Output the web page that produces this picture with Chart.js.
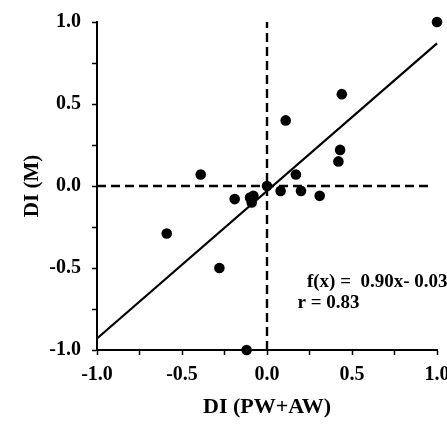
<!DOCTYPE html>
<html>
<head>
<meta charset="utf-8">
<script src="https://cdn.jsdelivr.net/npm/chart.js@4/dist/chart.umd.min.js"></script>
<style>
  html, body { margin: 0; padding: 0; background: #fff; }
  #wrap { width: 447px; height: 432px; }
</style>
</head>
<body>
<div id="wrap"><canvas id="c" width="447" height="432"></canvas></div>
<script>
// Data
const pointX = [1.0, 0.44, 0.11, 0.43, 0.42, 0.17, -0.39, -0.19, -0.10, -0.08, -0.09, -0.59, -0.28, -0.12, 0.0, 0.08, 0.20, 0.31];
const pointY = [1.0, 0.56, 0.40, 0.22, 0.15, 0.07, 0.07, -0.08, -0.07, -0.06, -0.10, -0.29, -0.50, -1.0, 0.0, -0.03, -0.03, -0.06];
const fitX = [-1.0, 1.0];
const fitY = [-0.93, 0.87];
const hRefX = [-1.0, 0.95];
const hRefY = [0.0, 0.0];
const vRefX = [0.0, 0.0];
const vRefY = [-1.0, 1.0];
const xTitle = 'DI (PW+AW)';
const yTitle = 'DI (M)';
const eqText = 'f(x) =  0.90x- 0.03';
const rText = 'r = 0.83';
const eqPos = [0.235, -0.615];
const rPos = [0.18, -0.745];

const toXY = (xs, ys) => xs.map((x, i) => ({x: x, y: ys[i]}));
const FONT = '"Liberation Serif", "Times New Roman", serif';

const textPlugin = {
  id: 'eqText',
  afterDatasetsDraw(chart) {
    const {ctx, scales: {x, y}} = chart;
    ctx.save();
    ctx.fillStyle = '#000';
    ctx.font = 'bold 19px ' + FONT;
    ctx.textBaseline = 'alphabetic';
    ctx.textAlign = 'left';
    ctx.fillText(eqText, x.getPixelForValue(eqPos[0]), y.getPixelForValue(eqPos[1]));
    ctx.fillText(rText, x.getPixelForValue(rPos[0]), y.getPixelForValue(rPos[1]));
    ctx.restore();
  }
};

const tickCb = v => (Math.abs(Math.round(v * 2) - v * 2) < 1e-6) ? Number(v).toFixed(1) : '';

new Chart(document.getElementById('c'), {
  type: 'scatter',
  data: {
    datasets: [
      {
        type: 'line', data: toXY(hRefX, hRefY), borderColor: '#000', borderWidth: 2.4,
        borderDash: [9, 5], pointRadius: 0, fill: false
      },
      {
        type: 'line', data: toXY(vRefX, vRefY), borderColor: '#000', borderWidth: 2.4,
        borderDash: [9, 5], pointRadius: 0, fill: false
      },
      {
        type: 'line', data: toXY(fitX, fitY), borderColor: '#000', borderWidth: 2.2,
        pointRadius: 0, fill: false
      },
      {
        data: toXY(pointX, pointY), backgroundColor: '#000', borderColor: '#000',
        pointRadius: 5.3, pointHoverRadius: 5.3, borderWidth: 0
      }
    ]
  },
  options: {
    responsive: false,
    animation: false,
    clip: false,
    layout: { padding: { top: 22, right: 10, left: 0, bottom: 0 } },
    plugins: { legend: { display: false }, tooltip: { enabled: false } },
    scales: {
      x: {
        type: 'linear', min: -1, max: 1,
        afterFit(s) { s.height = 82; s.paddingLeft = 0; s.paddingRight = 0; },
        ticks: { stepSize: 0.25, callback: tickCb, color: '#000', padding: 8, autoSkip: false, maxRotation: 0,
                 font: { family: FONT, size: 20, weight: 'bold' } },
        grid: { display: true, drawOnChartArea: false, drawTicks: true, tickLength: 5, tickColor: '#000', tickWidth: 1.5 },
        border: { display: true, color: '#000', width: 2 },
        title: { display: true, text: xTitle, color: '#000', padding: { top: 0, bottom: 11 },
                 font: { family: FONT, size: 22, weight: 'bold' } }
      },
      y: {
        type: 'linear', min: -1, max: 1,
        afterFit(s) { s.width = 97; s.paddingTop = 0; s.paddingBottom = 0; },
        ticks: { stepSize: 0.25, callback: tickCb, color: '#000', padding: 11, autoSkip: false,
                 font: { family: FONT, size: 20, weight: 'bold' } },
        grid: { display: true, drawOnChartArea: false, drawTicks: true, tickLength: 5, tickColor: '#000', tickWidth: 1.5 },
        border: { display: true, color: '#000', width: 2 },
        title: { display: true, text: yTitle, color: '#000', padding: { top: 20, bottom: 0 },
                 font: { family: FONT, size: 21, weight: 'bold' } }
      }
    }
  },
  plugins: [textPlugin]
});
</script>
</body>
</html>
